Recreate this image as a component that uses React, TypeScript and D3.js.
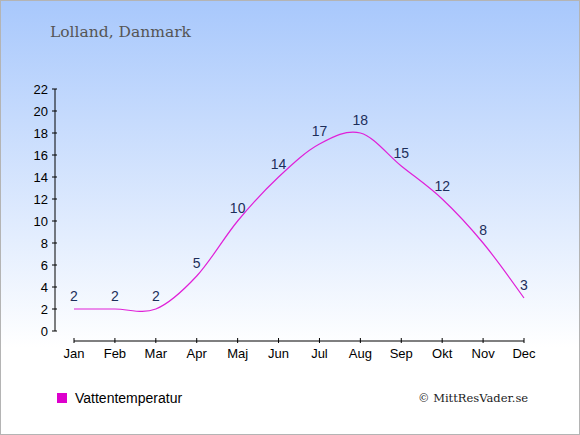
import { useMemo } from "react";
import * as d3 from "d3";

const WIDTH = 580;
const HEIGHT = 435;

const months = ["Jan", "Feb", "Mar", "Apr", "Maj", "Jun", "Jul", "Aug", "Sep", "Okt", "Nov", "Dec"];
const waterTemp = [2, 2, 2, 5, 10, 14, 17, 18, 15, 12, 8, 3];
const yTicks = [0, 2, 4, 6, 8, 10, 12, 14, 16, 18, 20, 22];

const X_LEFT = 74;
const X_RIGHT = 524;
const Y_BOTTOM = 331;
const Y_TOP = 89;
const Y_AXIS_X = 55;
const X_AXIS_Y = 341;

export default function App() {
  const xScale = useMemo(
    () => d3.scalePoint().domain(months).range([X_LEFT, X_RIGHT]),
    []
  );
  const yScale = useMemo(
    () => d3.scaleLinear().domain([0, 22]).range([Y_BOTTOM, Y_TOP]),
    []
  );

  const linePath = d3
    .line<number>()
    .x((_, i) => xScale(months[i])!)
    .y((d) => yScale(d))
    .curve(d3.curveCardinal.tension(0))(waterTemp);

  return (
    <svg width={WIDTH} height={HEIGHT} style={{ position: "absolute", left: 0, top: 0 }}>
      <defs>
        <linearGradient id="bg" x1="0" y1="0" x2="0" y2="1">
          <stop offset="0" stopColor="#a8c8fc" />
          <stop offset="0.8" stopColor="#ffffff" />
          <stop offset="1" stopColor="#ffffff" />
        </linearGradient>
      </defs>
      <rect x={0.5} y={0.5} width={WIDTH - 1} height={HEIGHT - 1} fill="url(#bg)" stroke="#b4b4b4" />

      <text x={50} y={37} fontFamily="DejaVu Serif" fontSize={15.5} fill="#555555">
        Lolland, Danmark
      </text>

      {/* y axis */}
      <line x1={Y_AXIS_X} x2={Y_AXIS_X} y1={yScale(22)} y2={yScale(0)} stroke="#000" />
      {yTicks.map((t) => (
        <g key={t}>
          <line x1={Y_AXIS_X - 3} x2={Y_AXIS_X + 2} y1={yScale(t)} y2={yScale(t)} stroke="#000" />
          <text
            x={Y_AXIS_X - 7}
            y={yScale(t)}
            dy="0.35em"
            textAnchor="end"
            fontFamily="Liberation Sans, Arial"
            fontSize={13}
            fill="#000"
          >
            {t}
          </text>
        </g>
      ))}

      {/* x axis */}
      <line x1={X_LEFT} x2={X_RIGHT} y1={X_AXIS_Y} y2={X_AXIS_Y} stroke="#000" />
      {months.map((m) => (
        <g key={m}>
          <line x1={xScale(m)} x2={xScale(m)} y1={X_AXIS_Y - 3} y2={X_AXIS_Y + 2} stroke="#000" />
          <text
            x={xScale(m)}
            y={X_AXIS_Y + 17}
            textAnchor="middle"
            fontFamily="Liberation Sans, Arial"
            fontSize={13}
            fill="#000"
          >
            {m}
          </text>
        </g>
      ))}

      <path d={linePath ?? ""} fill="none" stroke="#e020d8" strokeWidth={1.2} />

      {waterTemp.map((v, i) => (
        <text
          key={i}
          x={xScale(months[i])}
          y={yScale(v) - 8}
          textAnchor="middle"
          fontFamily="Liberation Sans, Arial"
          fontSize={14}
          fill="#1c2e5a"
        >
          {v}
        </text>
      ))}

      {/* legend */}
      <rect x={57} y={393} width={10} height={10} fill="#dd00cc" />
      <text x={75} y={403} fontFamily="Liberation Sans, Arial" fontSize={14} fill="#000">
        Vattentemperatur
      </text>

      <text x={418} y={402} fontFamily="DejaVu Serif" fontSize={11.5} fill="#222">
        © MittResVader.se
      </text>
    </svg>
  );
}
